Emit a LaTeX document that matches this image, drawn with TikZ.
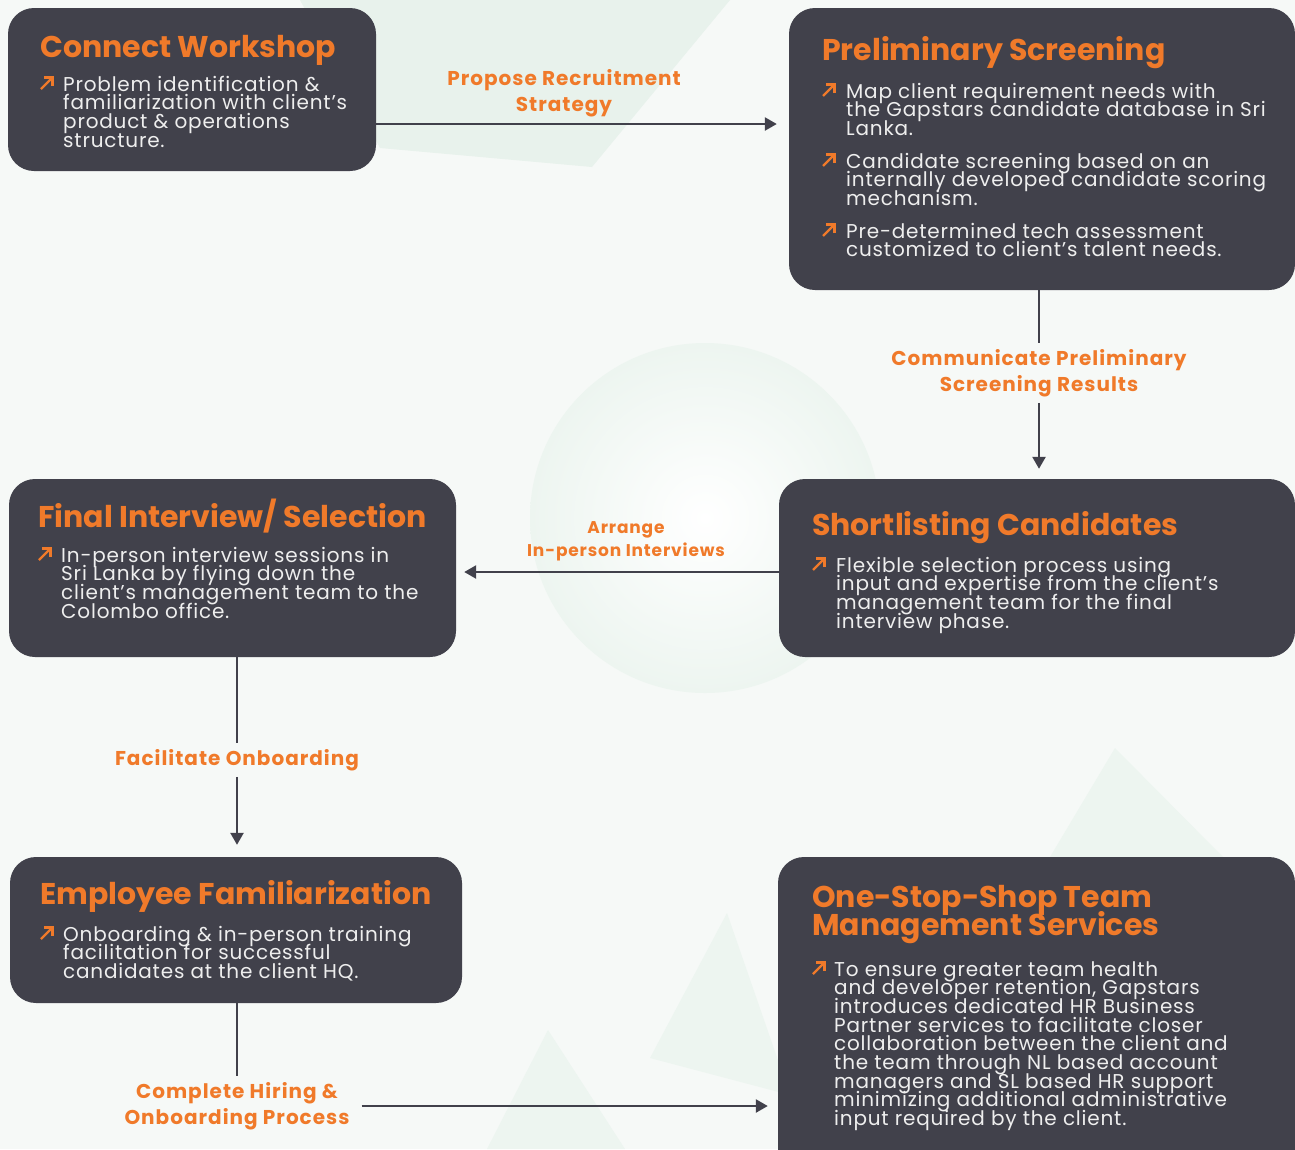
\documentclass[tikz,border=0pt]{standalone}
\usepackage{fontspec}
\setmainfont{Poppins}
\newfontfamily\bodyfont{Poppins}[LetterSpace=4]
\newfontfamily\labelfont{Poppins}[LetterSpace=5]
\usetikzlibrary{arrows.meta}

\definecolor{boxfill}{HTML}{41414B}
\definecolor{accent}{HTML}{F07A2A}
\definecolor{bodytext}{HTML}{EEEEEE}
\definecolor{paper}{HTML}{F6F9F7}
\definecolor{mint}{HTML}{E8F2EC}
\definecolor{mintsoft}{HTML}{EDF5F0}

% paragraph block with fixed, tight line pitch
\newcommand\textblock[2]{\parbox[t]{#1}{\lineskiplimit=-50pt\lineskip=0pt\relax #2}}

\begin{document}
\begin{tikzpicture}[x=1pt,y=-1pt,
  card/.style={fill=boxfill, rounded corners=26pt, inner sep=0pt, draw=none},
  title/.style={anchor=base west, inner sep=0pt, text=accent,
    font=\fontsize{30}{28.5}\selectfont\bfseries},
  body/.style={anchor=base west, inner sep=0pt, text=bodytext,
    font=\bodyfont\fontsize{20}{18.7}\selectfont},
  flowlabel/.style={text=accent, align=center, inner sep=6pt,
    font=\labelfont\bfseries\fontsize{20}{26}\selectfont},
  link/.style={draw=boxfill, line width=2.5pt},
  conn/.style={link, -{Triangle[length=12pt,width=13pt]}},
  bullet/.pic={
    \draw[accent, line width=2.3pt] (0,0) -- (11.5,-11.5);
    \draw[accent, line width=2.3pt, line join=miter] (3,-11.5) -- (11.5,-11.5) -- (11.5,-3);
  },
]
\useasboundingbox (0,0) rectangle (1295,1149);
\clip (0,0) rectangle (1295,1149);

% background and soft decorative shapes
\fill[paper] (0,0) rectangle (1295,1149);
\fill[mint] (300,0) -- (730,0) -- (592,167) -- (380,148) -- cycle;
\shade[inner color=white, outer color=mintsoft] (705,518) circle (175);
\fill[mintsoft] (548,1030) -- (625,1149) -- (487,1149) -- cycle;
\fill[mintsoft] (727,913) -- (650,1058) -- (790,1095) -- cycle;
\fill[mintsoft] (1115,748) -- (1223,857) -- (1050,857) -- cycle;

% cards
\node[card, minimum width=368pt, minimum height=163pt] (cw)  at (192,89.5) {};
\node[card, minimum width=506pt, minimum height=282pt] (ps)  at (1042,149) {};
\node[card, minimum width=516pt, minimum height=178pt] (sc)  at (1037,568) {};
\node[card, minimum width=447pt, minimum height=178pt] (fi)  at (232.5,568) {};
\node[card, minimum width=452pt, minimum height=146pt] (ef)  at (236,930) {};
\node[card, minimum width=517pt, minimum height=318pt] (oss) at (1036.5,1016) {};

% Connect Workshop
\node[title] (cwt) at (40,57) {Connect Workshop};
\pic at (41,89) {bullet};
\node[body] (cwb) at (63,91) {\textblock{310pt}{Problem identification \&\\familiarization with client’s\\product \& operations\\structure.}};

% Preliminary Screening
\node[title] (pst) at (822,60) {Preliminary Screening};
\pic at (823,96) {bullet};
\node[body] (psb1) at (846,98) {\textblock{440pt}{Map client requirement needs with\\the Gapstars candidate database in Sri\\Lanka.}};
\pic at (823,166) {bullet};
\node[body] (psb2) at (846,168) {\textblock{440pt}{Candidate screening based on an\\internally developed candidate scoring\\mechanism.}};
\pic at (823,236) {bullet};
\node[body] (psb3) at (846,238) {\textblock{440pt}{Pre-determined tech assessment\\customized to client’s talent needs.}};

% Shortlisting Candidates
\node[title] (sct) at (812,535) {Shortlisting Candidates};
\pic at (813,570) {bullet};
\node[body] (scb) at (836,572) {\textblock{440pt}{Flexible selection process using\\input and expertise from the client’s\\management team for the final\\interview phase.}};

% Final Interview / Selection
\node[title] (fit) at (38,527) {Final Interview/ Selection};
\pic at (39,560) {bullet};
\node[body] (fib) at (61,562) {\textblock{380pt}{In-person interview sessions in\\Sri Lanka by flying down the\\client’s management team to the\\Colombo office.}};

% Employee Familiarization
\node[title] (eft) at (40,904) {Employee Familiarization};
\pic at (41,939) {bullet};
\node[body] (efb) at (63,941) {\textblock{380pt}{Onboarding \& in-person training\\facilitation for successful\\candidates at the client HQ.}};

% One-Stop-Shop Team Management Services
\node[title] (osst) at (812,907) {\textblock{440pt}{One-Stop-Shop Team\\Management Services}};
\pic at (813,974) {bullet};
\node[body] (ossb) at (834,976) {\textblock{440pt}{To ensure greater team health\\and developer retention, Gapstars\\introduces dedicated HR Business\\Partner services to facilitate closer\\collaboration between the client and\\the team through NL based account\\managers and SL based HR support\\minimizing additional administrative\\input required by the client.}};

% connector labels
\node[flowlabel] (l1) at (564,93) {Propose Recruitment\\Strategy};
\node[flowlabel] (l2) at (1039,373) {Communicate Preliminary\\Screening Results};
\node[flowlabel, font=\labelfont\bfseries\fontsize{17}{23}\selectfont] (l3) at (626,541) {Arrange\\In-person Interviews};
\node[flowlabel] (l4) at (237,760) {Facilitate Onboarding};
\node[flowlabel] (l5) at (237,1106) {Complete Hiring \&\\Onboarding Process};

% connectors
\draw[conn, shorten >=12pt] (cw.east |- 0,124) -- (ps.west |- 0,124);
\draw[link] (ps.south -| l2.north) -- (l2.north);
\draw[conn, shorten >=10pt] (l2.south) -- (sc.north -| l2.south);
\draw[conn, shorten >=8pt] (sc.west |- 0,572) -- (fi.east |- 0,572);
\draw[link] (fi.south -| l4.north) -- (l4.north);
\draw[conn, shorten >=12pt] (l4.south) -- (ef.north -| l4.south);
\draw[link] (ef.south -| l5.north) -- (l5.north);
\draw[conn, shorten >=10pt] ([xshift=6pt]l5.east) -- (oss.west |- l5.east);
\end{tikzpicture}
\end{document}
